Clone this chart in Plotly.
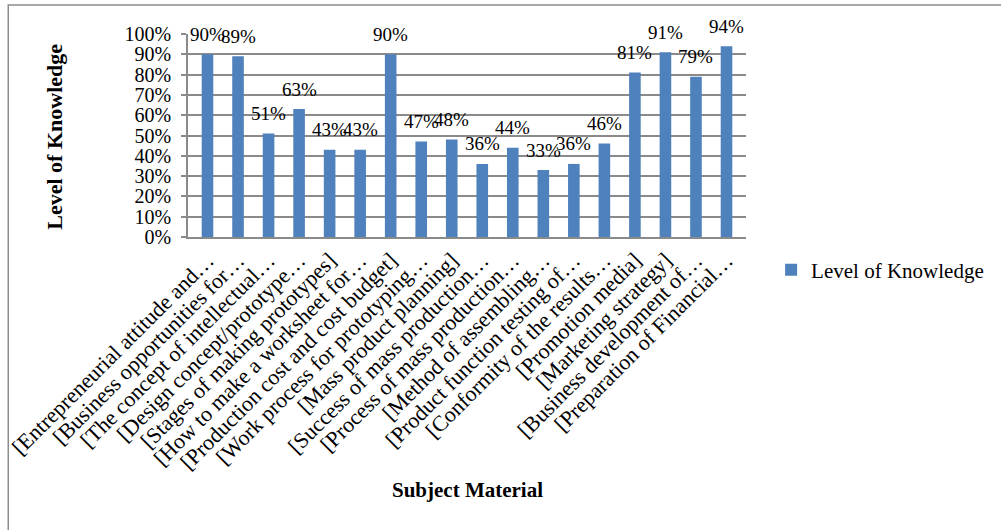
import plotly.graph_objects as go

categories = [
    "[Entrepreneurial attitude and…",
    "[Business opportunities for…",
    "[The concept of intellectual…",
    "[Design concept/prototype…",
    "[Stages of making prototypes]",
    "[How to make a worksheet for…",
    "[Production cost and cost budget]",
    "[Work process for prototyping…",
    "[Mass product planning]",
    "[Success of mass production…",
    "[Process of mass production…",
    "[Method of assembling…",
    "[Product function testing of…",
    "[Conformity of the results…",
    "[Promotion media]",
    "[Marketing strategy]",
    "[Business development of…",
    "[Preparation of Financial…",
]
values = [0.90, 0.89, 0.51, 0.63, 0.43, 0.43, 0.90, 0.47, 0.48, 0.36,
          0.44, 0.33, 0.36, 0.46, 0.81, 0.91, 0.79, 0.94]
series_name = "Level of Knowledge"
x_title = "Subject Material"
y_title = "Level of Knowledge"
y_ticks = [0, 0.1, 0.2, 0.3, 0.4, 0.5, 0.6, 0.7, 0.8, 0.9, 1.0]

FONT = "Liberation Serif, Times New Roman, serif"
GRID = "#8a8a8a"

fig = go.Figure()
fig.add_trace(go.Bar(
    x=categories, y=values, name=series_name,
    marker=dict(color="#4F81BD", line=dict(width=0)),
    width=0.38, showlegend=True,
))

for c, v in zip(categories, values):
    fig.add_annotation(x=c, y=v, text=f"{round(v*100)}%", showarrow=False,
                       yanchor="middle", yshift=20,
                       font=dict(family=FONT, size=19, color="#000"))

# axis titles
fig.add_annotation(xref="paper", yref="paper", x=0.501, y=-1.246,
                   text=f"<b>{x_title}</b>", showarrow=False,
                   xanchor="center", yanchor="middle",
                   font=dict(family=FONT, size=21, color="#000"))
fig.add_annotation(xref="paper", yref="paper", x=-0.2407, y=0.4926,
                   text=f"<b>{y_title}</b>", showarrow=False, textangle=-90,
                   xanchor="center", yanchor="middle",
                   font=dict(family=FONT, size=22, color="#000"))

fig.update_layout(
    width=1001, height=530,
    margin=dict(l=188, r=248, t=34, b=293),
    paper_bgcolor="white", plot_bgcolor="white",
    font=dict(family=FONT, size=20, color="#000"),
    legend=dict(x=1.045, y=-0.163, xanchor="left", yanchor="middle",
                font=dict(family=FONT, size=21, color="#000"),
                itemwidth=30,
                bgcolor="rgba(0,0,0,0)"),
    shapes=[dict(type="rect", xref="paper", yref="paper",
                 x0=-0.3221, x1=1.6, y0=-1.5, y1=1.1429,
                 line=dict(color="#8c8c8c", width=1.5), layer="below")],
)
fig.update_xaxes(
    type="category", tickangle=-45, automargin=False,
    showline=True, linecolor=GRID, linewidth=1.5,
    ticks="", showgrid=False,
    tickfont=dict(family=FONT, size=22, color="#000"),
)
fig.update_yaxes(
    range=[0, 1], tickvals=y_ticks, tickformat=".0%", automargin=False,
    showline=True, linecolor=GRID, linewidth=1.5,
    ticks="outside", ticklen=5, tickcolor=GRID, tickwidth=1.5,
    ticklabelstandoff=6,
    showgrid=True, gridcolor=GRID, gridwidth=1.5, zeroline=False,
    tickfont=dict(family=FONT, size=20, color="#000"),
)

fig.write_html("out.html")
